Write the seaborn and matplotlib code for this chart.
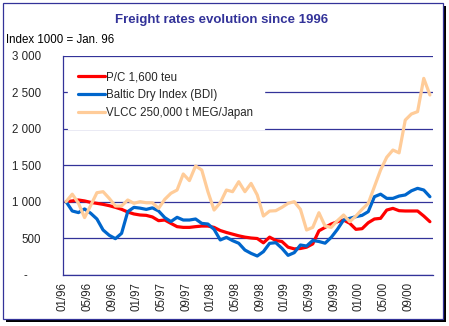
import matplotlib
matplotlib.use("Agg")
import matplotlib.pyplot as plt
import seaborn as sns
import pandas as pd
import numpy as np
from matplotlib.patches import Rectangle

# ---- data (monthly, Jan 96 .. Dec 00) ----
series_names = ["P/C 1,600 teu", "Baltic Dry Index (BDI)", "VLCC 250,000 t MEG/Japan"]
pc_1600 = [1000, 1010, 1023, 1010, 990, 977, 963, 945, 922, 895, 858, 831,
           817, 812, 790, 739, 748, 702, 657, 647, 647, 657, 665, 665,
           647, 604, 577, 554, 531, 513, 501, 494, 435, 513, 467, 453,
           375, 352, 357, 375, 420, 600, 647, 693, 725, 748, 703, 620,
           629, 711, 762, 771, 885, 908, 876, 872, 872, 872, 803, 725]
bdi = [1000, 872, 850, 900, 840, 762, 611, 538, 492, 565, 863, 922,
       911, 894, 915, 872, 781, 727, 785, 748, 748, 762, 702, 693,
       620, 474, 510, 465, 429, 336, 290, 254, 314, 428, 437, 360,
       263, 300, 405, 391, 467, 453, 430, 510, 620, 748, 771, 794,
       812, 863, 1068, 1103, 1045, 1045, 1077, 1092, 1149, 1183, 1160, 1068]
vlcc = [1000, 1103, 980, 781, 950, 1123, 1137, 1045, 940, 940, 1023, 977,
        1000, 985, 985, 908, 1032, 1115, 1160, 1380, 1289, 1490, 1435, 1137,
        885, 985, 1160, 1137, 1274, 1137, 1251, 1092, 803, 871, 876, 922,
        977, 1000, 895, 611, 647, 848, 665, 647, 739, 817, 725, 803,
        895, 977, 1206, 1435, 1610, 1709, 1670, 2120, 2204, 2236, 2693, 2465]
x_labels = ["01/96", "05/96", "09/96", "01/97", "05/97", "09/97", "01/98", "05/98",
            "09/98", "01/99", "05/99", "09/99", "01/00", "05/00", "09/00", ""]
y_ticks = [0, 500, 1000, 1500, 2000, 2500, 3000]
y_labels = ["-    ", "500", "1 000", "1 500", "2 000", "2 500", "3 000"]

colors = ["#FF0000", "#0066CC", "#FFCC99"]
navy = "#333399"

n = len(pc_1600)
month = np.arange(n) + 0.5
df = pd.DataFrame({
    "month": np.concatenate([month, month, month]),
    "value": pc_1600 + bdi + vlcc,
    "series": [series_names[0]] * n + [series_names[1]] * n + [series_names[2]] * n,
})

sns.set_style("white")
plt.rcParams["font.family"] = ["Liberation Sans", "DejaVu Sans"]

W, H = 449, 326
fs = 8.3
fig = plt.figure(figsize=(W / 100, H / 100), dpi=100)
ax = fig.add_axes([63 / W, 1 - 274.5 / H, (433 - 63) / W, (274.5 - 56) / H])

sns.lineplot(data=df, x="month", y="value", hue="series", hue_order=series_names,
             palette=colors, linewidth=2.3, ax=ax, legend=False, zorder=3)

ax.set_xlim(0, n)
ax.set_ylim(0, 3000)
ax.set_xticks(np.arange(0, n + 1, 4))
ax.set_xticklabels(x_labels, rotation=90, fontsize=fs)
ax.set_yticks(y_ticks)
ax.set_yticklabels(y_labels, fontsize=fs)
ax.set_xlabel("")
ax.set_ylabel("")
ax.tick_params(axis="both", direction="inout", length=5, width=0.8, color=navy, pad=3)
ax.tick_params(axis="y", pad=13.5)
ax.yaxis.grid(True, color=navy, linewidth=0.9)
ax.xaxis.grid(False)
for s in ["top", "right"]:
    ax.spines[s].set_visible(False)
for s in ["left", "bottom"]:
    ax.spines[s].set_color(navy)
    ax.spines[s].set_linewidth(0.9)

handles = [plt.Line2D([], [], color=c, linewidth=2.3) for c in colors]
leg = ax.legend(handles, series_names, loc="upper left",
                bbox_to_anchor=(68 / W, 1 - 61 / H), bbox_transform=fig.transFigure,
                frameon=True, fontsize=fs, handlelength=2.3, handletextpad=0.12,
                labelspacing=0.5, borderpad=0.9, borderaxespad=0, fancybox=False)
leg.get_frame().set_facecolor("white")
leg.get_frame().set_edgecolor("white")
leg.get_frame().set_alpha(1)
leg.set_zorder(5)

fig.text(222 / W, 1 - 20.5 / H, "Freight rates evolution since 1996", ha="center", va="center",
         fontsize=9.5, fontweight="bold", color=navy)
fig.text(6 / W, 1 - 40 / H, "Index 1000 = Jan. 96", ha="left", va="center",
         fontsize=fs, color="black")

# chart border with shadow
fig.patches.append(Rectangle((6 / W, 1 - 322 / H), 440 / W, 316 / H, transform=fig.transFigure,
                             facecolor="black", edgecolor="none", zorder=-2))
fig.patches.append(Rectangle((3 / W, 1 - 319 / H), 440 / W, 316 / H, transform=fig.transFigure,
                             facecolor="white", edgecolor=navy, linewidth=0.9, zorder=-1))

fig.savefig("out.png", dpi=100)
